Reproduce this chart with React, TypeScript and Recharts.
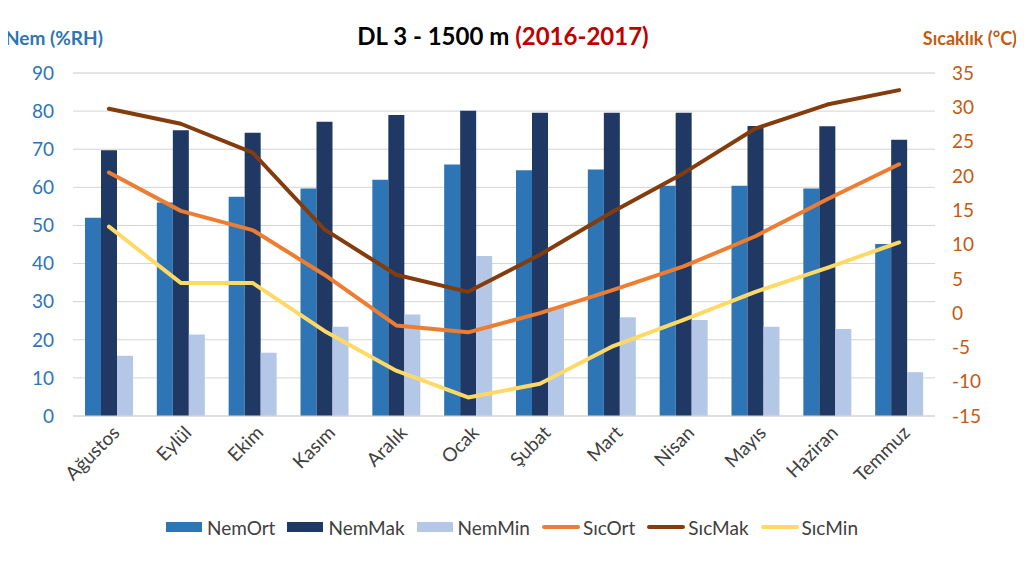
import React from "react";
import {
  ComposedChart,
  Bar,
  Line,
  XAxis,
  YAxis,
  CartesianGrid,
  Legend,
} from "recharts";

const months = ["Ağustos", "Eylül", "Ekim", "Kasım", "Aralık", "Ocak", "Şubat", "Mart", "Nisan", "Mayıs", "Haziran", "Temmuz"];
const nemOrt = [52, 56, 57.5, 59.7, 62, 66, 64.5, 64.7, 60.4, 60.4, 59.7, 45.1];
const nemMak = [69.7, 75, 74.3, 77.2, 79, 80.1, 79.6, 79.6, 79.6, 76.1, 76, 72.5];
const nemMin = [15.8, 21.4, 16.6, 23.4, 26.6, 42, 28.5, 25.9, 25.2, 23.4, 22.8, 11.5];
const sicOrt = [20.5, 14.9, 12.1, 5.6, -1.8, -2.8, 0, 3.3, 6.8, 11.2, 16.6, 21.7];
const sicMak = [29.8, 27.6, 23.4, 12.2, 5.6, 3.1, 8.5, 14.7, 20.4, 26.9, 30.4, 32.5];
const sicMin = [12.6, 4.4, 4.4, -2.6, -8.4, -12.3, -10.3, -4.9, -1, 3.1, 6.6, 10.3];

const leftTicks = [0, 10, 20, 30, 40, 50, 60, 70, 80, 90];
const rightTicks = [-15, -10, -5, 0, 5, 10, 15, 20, 25, 30, 35];
const minorGrid = [0, 2, 4, 6, 8, 10, 12, 14, 16, 18, 20, 22, 24, 26, 28, 30, 32, 34, 36, 38, 40, 42, 44, 46, 48, 50, 52, 54, 56, 58, 60, 62, 64, 66, 68, 70, 72, 74, 76, 78, 80, 82, 84, 86, 88, 90];

const data = months.map((m, i) => ({
  month: m,
  NemOrt: nemOrt[i],
  NemMak: nemMak[i],
  NemMin: nemMin[i],
  SicOrt: sicOrt[i],
  SicMak: sicMak[i],
  SicMin: sicMin[i],
}));

const C = {
  nemOrt: "#2E75B6",
  nemMak: "#1F3864",
  nemMin: "#B4C7E7",
  sicOrt: "#ED7D31",
  sicMak: "#843C0C",
  sicMin: "#FFD966",
};

const FONT = "Lato, 'Open Sans', sans-serif";

const legendItems = [
  { label: "NemOrt", color: C.nemOrt, type: "bar" },
  { label: "NemMak", color: C.nemMak, type: "bar" },
  { label: "NemMin", color: C.nemMin, type: "bar" },
  { label: "SıcOrt", color: C.sicOrt, type: "line" },
  { label: "SıcMak", color: C.sicMak, type: "line" },
  { label: "SıcMin", color: C.sicMin, type: "line" },
];

const XTick = (props: any) => {
  const { x, y, payload } = props;
  const tx = x + 12;
  const ty = y + 10;
  return (
    <text
      x={tx}
      y={ty}
      transform={`rotate(-45, ${tx}, ${ty})`}
      textAnchor="end"
      fill="#404040"
      fontSize={19}
      fontFamily={FONT}
    >
      {payload.value}
    </text>
  );
};

const LegendContent = () => (
  <div
    style={{
      display: "flex",
      justifyContent: "center",
      alignItems: "center",
      fontFamily: FONT,
      fontSize: 19,
      color: "#404040",
      gap: 12,
      height: 30,
    }}
  >
    {legendItems.map((it) => (
      <div key={it.label} style={{ display: "flex", alignItems: "center" }}>
        {it.type === "bar" ? (
          <span style={{ display: "inline-block", width: 36, height: 10, background: it.color, marginRight: 5 }} />
        ) : (
          <span style={{ display: "inline-block", width: 38, height: 4, borderRadius: 2, background: it.color, marginRight: 3 }} />
        )}
        <span>{it.label}</span>
      </div>
    ))}
  </div>
);

export default function App() {
  return (
    <div
      style={{
        position: "relative",
        width: 1024,
        height: 563,
        margin: -8,
        background: "#fff",
        fontFamily: FONT,
      }}
    >
      <div style={{ position: "absolute", left: 0, top: 0, width: 1024, height: 2, background: "#D9D9D9" }} />
      <div style={{ position: "absolute", left: 0, top: 559, width: 1024, height: 4, background: "#D9D9D9" }} />
      <div
        style={{
          position: "absolute",
          left: 0,
          top: 21,
          width: 1006,
          textAlign: "center",
          fontSize: 24,
          fontWeight: 700,
          color: "#000",
        }}
      >
        DL 3 - 1500 m <span style={{ color: "#C00000" }}>(2016-2017)</span>
      </div>
      <div style={{ position: "absolute", left: 5, top: 26, fontSize: 19, fontWeight: 700, color: "#2E75B6" }}>
        Nem (%RH)
      </div>
      <div style={{ position: "absolute", right: 7, top: 27, fontSize: 18, fontWeight: 700, color: "#C55A11" }}>
        Sıcaklık (°C)
      </div>
      <div style={{ position: "absolute", left: 0, top: 0 }}>
        <ComposedChart
          width={1024}
          height={563}
          data={data}
          margin={{ top: 73, right: 0, bottom: 0, left: 0 }}
          barGap={0}
          barCategoryGap="17%"
        >
          <CartesianGrid vertical={false} stroke="#E6E6E6" yAxisId="grid" />
          <CartesianGrid vertical={false} stroke="#D4D4D4" yAxisId="left" />
          <XAxis
            dataKey="month"
            height={117}
            interval={0}
            tick={<XTick />}
            tickLine={false}
            axisLine={{ stroke: "#D9D9D9" }}
          />
          <YAxis
            yAxisId="left"
            domain={[0, 90]}
            ticks={leftTicks}
            width={73}
            tickLine={false}
            axisLine={false}
            tickSize={0}
            tickMargin={19}
            tick={{ fill: "#2E75B6", fontSize: 19, fontFamily: FONT }}
          />
          <YAxis yAxisId="grid" domain={[0, 90]} ticks={minorGrid} width={0} hide />
          <YAxis
            yAxisId="right"
            orientation="right"
            domain={[-15, 35]}
            ticks={rightTicks}
            width={89}
            tickLine={false}
            axisLine={false}
            tickSize={0}
            tickMargin={17}
            tick={{ fill: "#C55A11", fontSize: 19, fontFamily: FONT, textAnchor: "start" }}
          />
          <Legend
            verticalAlign="bottom"
            content={<LegendContent />}
            wrapperStyle={{ left: 0, width: 1024, bottom: 21, height: 30 }}
          />
          <Bar yAxisId="left" dataKey="NemOrt" fill={C.nemOrt} barSize={16} isAnimationActive={false} />
          <Bar yAxisId="left" dataKey="NemMak" fill={C.nemMak} barSize={16} isAnimationActive={false} />
          <Bar yAxisId="left" dataKey="NemMin" fill={C.nemMin} barSize={16} isAnimationActive={false} />
          <Line yAxisId="right" dataKey="SicOrt" stroke={C.sicOrt} strokeWidth={4} dot={false} strokeLinecap="round" strokeLinejoin="round" isAnimationActive={false} />
          <Line yAxisId="right" dataKey="SicMak" stroke={C.sicMak} strokeWidth={4} dot={false} strokeLinecap="round" strokeLinejoin="round" isAnimationActive={false} />
          <Line yAxisId="right" dataKey="SicMin" stroke={C.sicMin} strokeWidth={4} dot={false} strokeLinecap="round" strokeLinejoin="round" isAnimationActive={false} />
        </ComposedChart>
      </div>
    </div>
  );
}
